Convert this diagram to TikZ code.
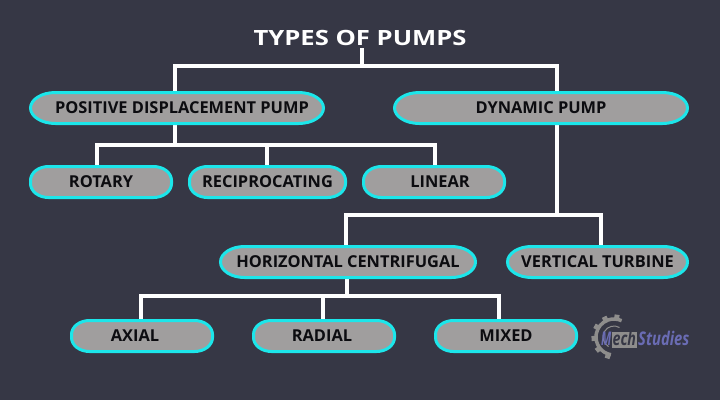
\documentclass[tikz,border=0pt]{standalone}
\usepackage{fontspec}
\setmainfont{Open Sans}
\definecolor{bg}{HTML}{363745}
\definecolor{cy}{HTML}{1CE6EA}
\definecolor{pill}{HTML}{A09E9E}
\definecolor{txt}{HTML}{0C0C10}
\definecolor{logog}{HTML}{8E8D8C}
\definecolor{logob}{HTML}{6A6CB4}
\pgfdeclarelayer{bgl}
\pgfdeclarelayer{lnk}
\pgfdeclarelayer{pil}
\pgfsetlayers{bgl,lnk,pil,main}
\tikzset{
 box/.style={text=txt,inner sep=0pt,outer sep=0pt,font=\fontsize{16.4}{18}\selectfont\bfseries,minimum height=31pt},
 pillshape/.style={draw=cy,line width=3pt,fill=pill},
 link/.style={draw=white,line width=3.6pt,line cap=butt,line join=miter},
 logotext/.style={font=\fontsize{14.5}{15}\selectfont\bfseries\itshape,inner sep=0pt,anchor=base west},
}
\begin{document}
\begin{tikzpicture}[x=1pt,y=-1pt]
\begin{pgfonlayer}{bgl}
\useasboundingbox[fill=bg] (0,0) rectangle (720,400);
\end{pgfonlayer}
\node[text=white,font=\fontsize{21}{24}\selectfont\bfseries] (title) at (360,38) {\scalebox{1.22}[1]{TYPES OF PUMPS}};
\coordinate (t0) at (362,48);
\coordinate (t1) at (362,66);
\coordinate (tl) at (175,66);
\coordinate (tr) at (557,66);
\coordinate (p0) at (175,145);
\coordinate (pl) at (97,145);
\coordinate (pm) at (267,145);
\coordinate (pr) at (435,145);
\coordinate (d0) at (557,215);
\coordinate (dl) at (346,215);
\coordinate (dr) at (601,215);
\coordinate (h0) at (347,296);
\coordinate (hl) at (141,296);
\coordinate (hm) at (323,296);
\coordinate (hr) at (499,296);
\node[box,minimum width=293pt] (pos) at (177,108) {\hspace*{10pt}POSITIVE DISPLACEMENT PUMP};
\node[box,minimum width=293pt] (dyn) at (541,108) {DYNAMIC PUMP};
\node[box,minimum width=141pt] (rot) at (101,182) {ROTARY};
\node[box,minimum width=156pt] (rec) at (267.5,182) {RECIPROCATING};
\node[box,minimum width=141pt] (lin) at (434,182) {\hspace*{12pt}LINEAR};
\node[box,minimum width=255pt] (hor) at (348,262) {HORIZONTAL CENTRIFUGAL};
\node[box,minimum width=180pt] (ver) at (597.5,262) {VERTICAL TURBINE};
\node[box,minimum width=141pt] (axi) at (142,336) {AXIAL\hspace*{14pt}};
\node[box,minimum width=141pt] (rad) at (324,336) {RADIAL\hspace*{4pt}};
\node[box,minimum width=141pt] (mix) at (506,336) {MIXED};
\begin{pgfonlayer}{pil}
\foreach \n/\rx/\ry in {pos/25/15.5,dyn/25/15.5,hor/24/15.5,ver/24/15.5,rot/18/14,rec/18/14,lin/18/14,axi/18/14,rad/18/14,mix/18/14}{
 \path[pillshape] ([xshift=\rx pt]\n.north west) -- ([xshift=-\rx pt]\n.north east)
   arc[start angle=90,end angle=0,x radius=\rx pt,y radius=\ry pt]
   -- ([xshift=0pt,yshift=\ry pt]\n.south east)
   arc[start angle=0,end angle=-90,x radius=\rx pt,y radius=\ry pt]
   -- ([xshift=\rx pt]\n.south west)
   arc[start angle=-90,end angle=-180,x radius=\rx pt,y radius=\ry pt]
   -- ([yshift=-\ry pt]\n.north west)
   arc[start angle=180,end angle=90,x radius=\rx pt,y radius=\ry pt] -- cycle;
}
\end{pgfonlayer}
\begin{pgfonlayer}{lnk}
\path[link] (t0) -- (t1);
\path[link] ([xshift=-1.8pt]tl) -- ([xshift=1.8pt]tr);
\path[link] (tl) -- (pos.north-|tl);
\path[link] (tr) -- (dyn.north-|tr);
\path[link] (pos.south-|p0) -- (p0);
\path[link] ([xshift=-1.8pt]pl) -- ([xshift=1.8pt]pr);
\path[link] (pl) -- (rot.north-|pl);
\path[link] (pm) -- (rec.north-|pm);
\path[link] (pr) -- (lin.north-|pr);
\path[link] (dyn.south-|d0) -- ([yshift=1.8pt]d0);
\path[link] ([xshift=-1.8pt]dl) -- ([xshift=1.8pt]dr);
\path[link] (dl) -- (hor.north-|dl);
\path[link] (dr) -- (ver.north-|dr);
\path[link] (hor.south-|h0) -- (h0);
\path[link] ([xshift=-1.8pt]hl) -- ([xshift=1.8pt]hr);
\path[link] (hl) -- (axi.north-|hl);
\path[link] (hm) -- (rad.north-|hm);
\path[link] (hr) -- (mix.north-|hr);
\end{pgfonlayer}
% logo
\coordinate (gc) at (614,337);
\draw[logog,line width=3.5pt] (gc) ++(100:18) arc[start angle=100,end angle=295,radius=18];
\foreach \a in {108,142,176,210,244,278}
  \draw[logog,line width=5pt] (gc) ++(\a:18) -- ++(\a:4.5);
\draw[logog,line width=1pt] (gc) ++(120:11) arc[start angle=120,end angle=300,radius=11];
\fill[logog] (612,332) rectangle (637,348);
\node[logotext,text=bg] (mech) at (612.5,345) {\scalebox{0.98}[1.3]{ech}};
\node[logotext,text=logob] (mm) at (601,345) {\scalebox{0.8}[1.3]{M}};
\node[logotext,text=logob] (stud) at (638,345) {\scalebox{1.02}[1.3]{Studies}};
\end{tikzpicture}
\end{document}
